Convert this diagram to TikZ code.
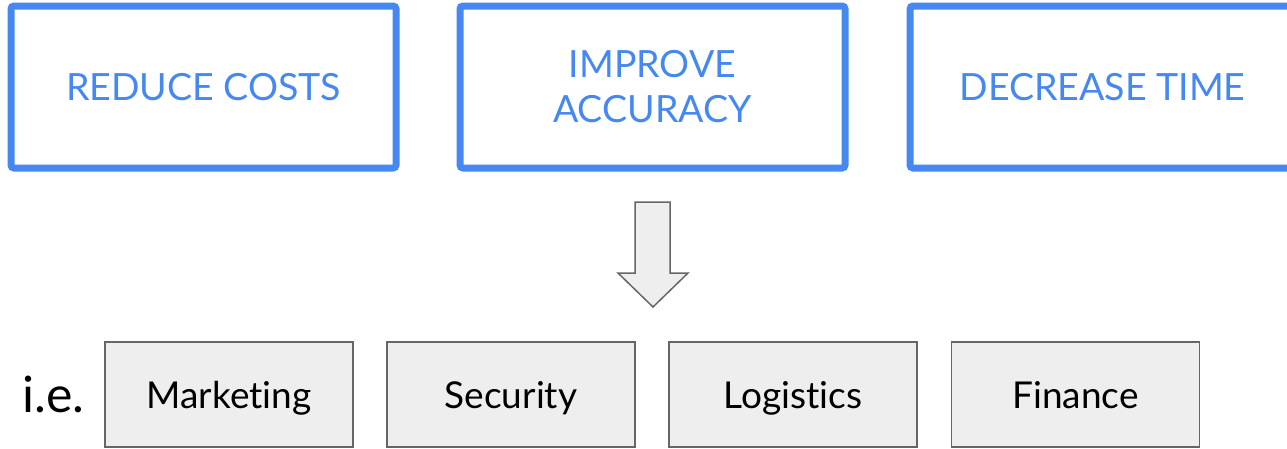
\documentclass[tikz,border=0pt]{standalone}
\usepackage{fontspec}
\setmainfont{Lato}[Ligatures=NoCommon]
\usetikzlibrary{positioning}

\definecolor{goalblue}{HTML}{4688F1}
\definecolor{areagray}{HTML}{EEEEEE}
\definecolor{edgegray}{HTML}{666666}

\tikzset{
    goal/.style={draw=goalblue, line width=7pt, rounded corners=3pt,
        text=goalblue, align=center, inner sep=0pt,
        minimum width=385pt, minimum height=162pt,
        font=\fontsize{37.5}{45}\selectfont},
    area/.style={draw=edgegray, fill=areagray, line width=1.5pt,
        inner sep=0pt, minimum width=248pt, minimum height=105pt,
        text height=28pt, text depth=0pt,
        font=\fontsize{37}{44}\selectfont}
}

\begin{document}
\begin{tikzpicture}[x=1pt,y=-1pt]
        \useasboundingbox (0,0) rectangle (1287,448);

        % goals along the top
        \node[goal] (cost) at (203.5,87) {REDUCE COSTS};
        \node[goal] (acc) at (652.5,87) {IMPROVE\\ACCURACY};
        \node[goal] (time) at (1102.5,87) {DECREASE TIME};

        % block arrow down
        \coordinate (s1) at (635,202);
        \coordinate (s2) at (670,202);
        \coordinate (h1) at (618,273);
        \coordinate (h2) at (688,273);
        \coordinate (tip) at (653,307);
        \draw[draw=edgegray, fill=areagray, line width=1.5pt, line join=miter]
        (s1) -- (s2) -- (670,273) -- (h2) -- (tip) -- (h1) -- (635,273) -- cycle;

        % business areas
        \node[font=\fontsize{50}{54}\selectfont, anchor=base west, inner sep=0pt]
            (ie) at (22,412) {i.e.};
        \node[area] (mkt) at (229,394.5) {Marketing};
        \node[area] (sec) at (511,394.5) {Security};
        \node[area] (log) at (793,394.5) {Logistics};
        \node[area] (fin) at (1075.5,394.5) {Finance};
    \end{tikzpicture}
\end{document}
